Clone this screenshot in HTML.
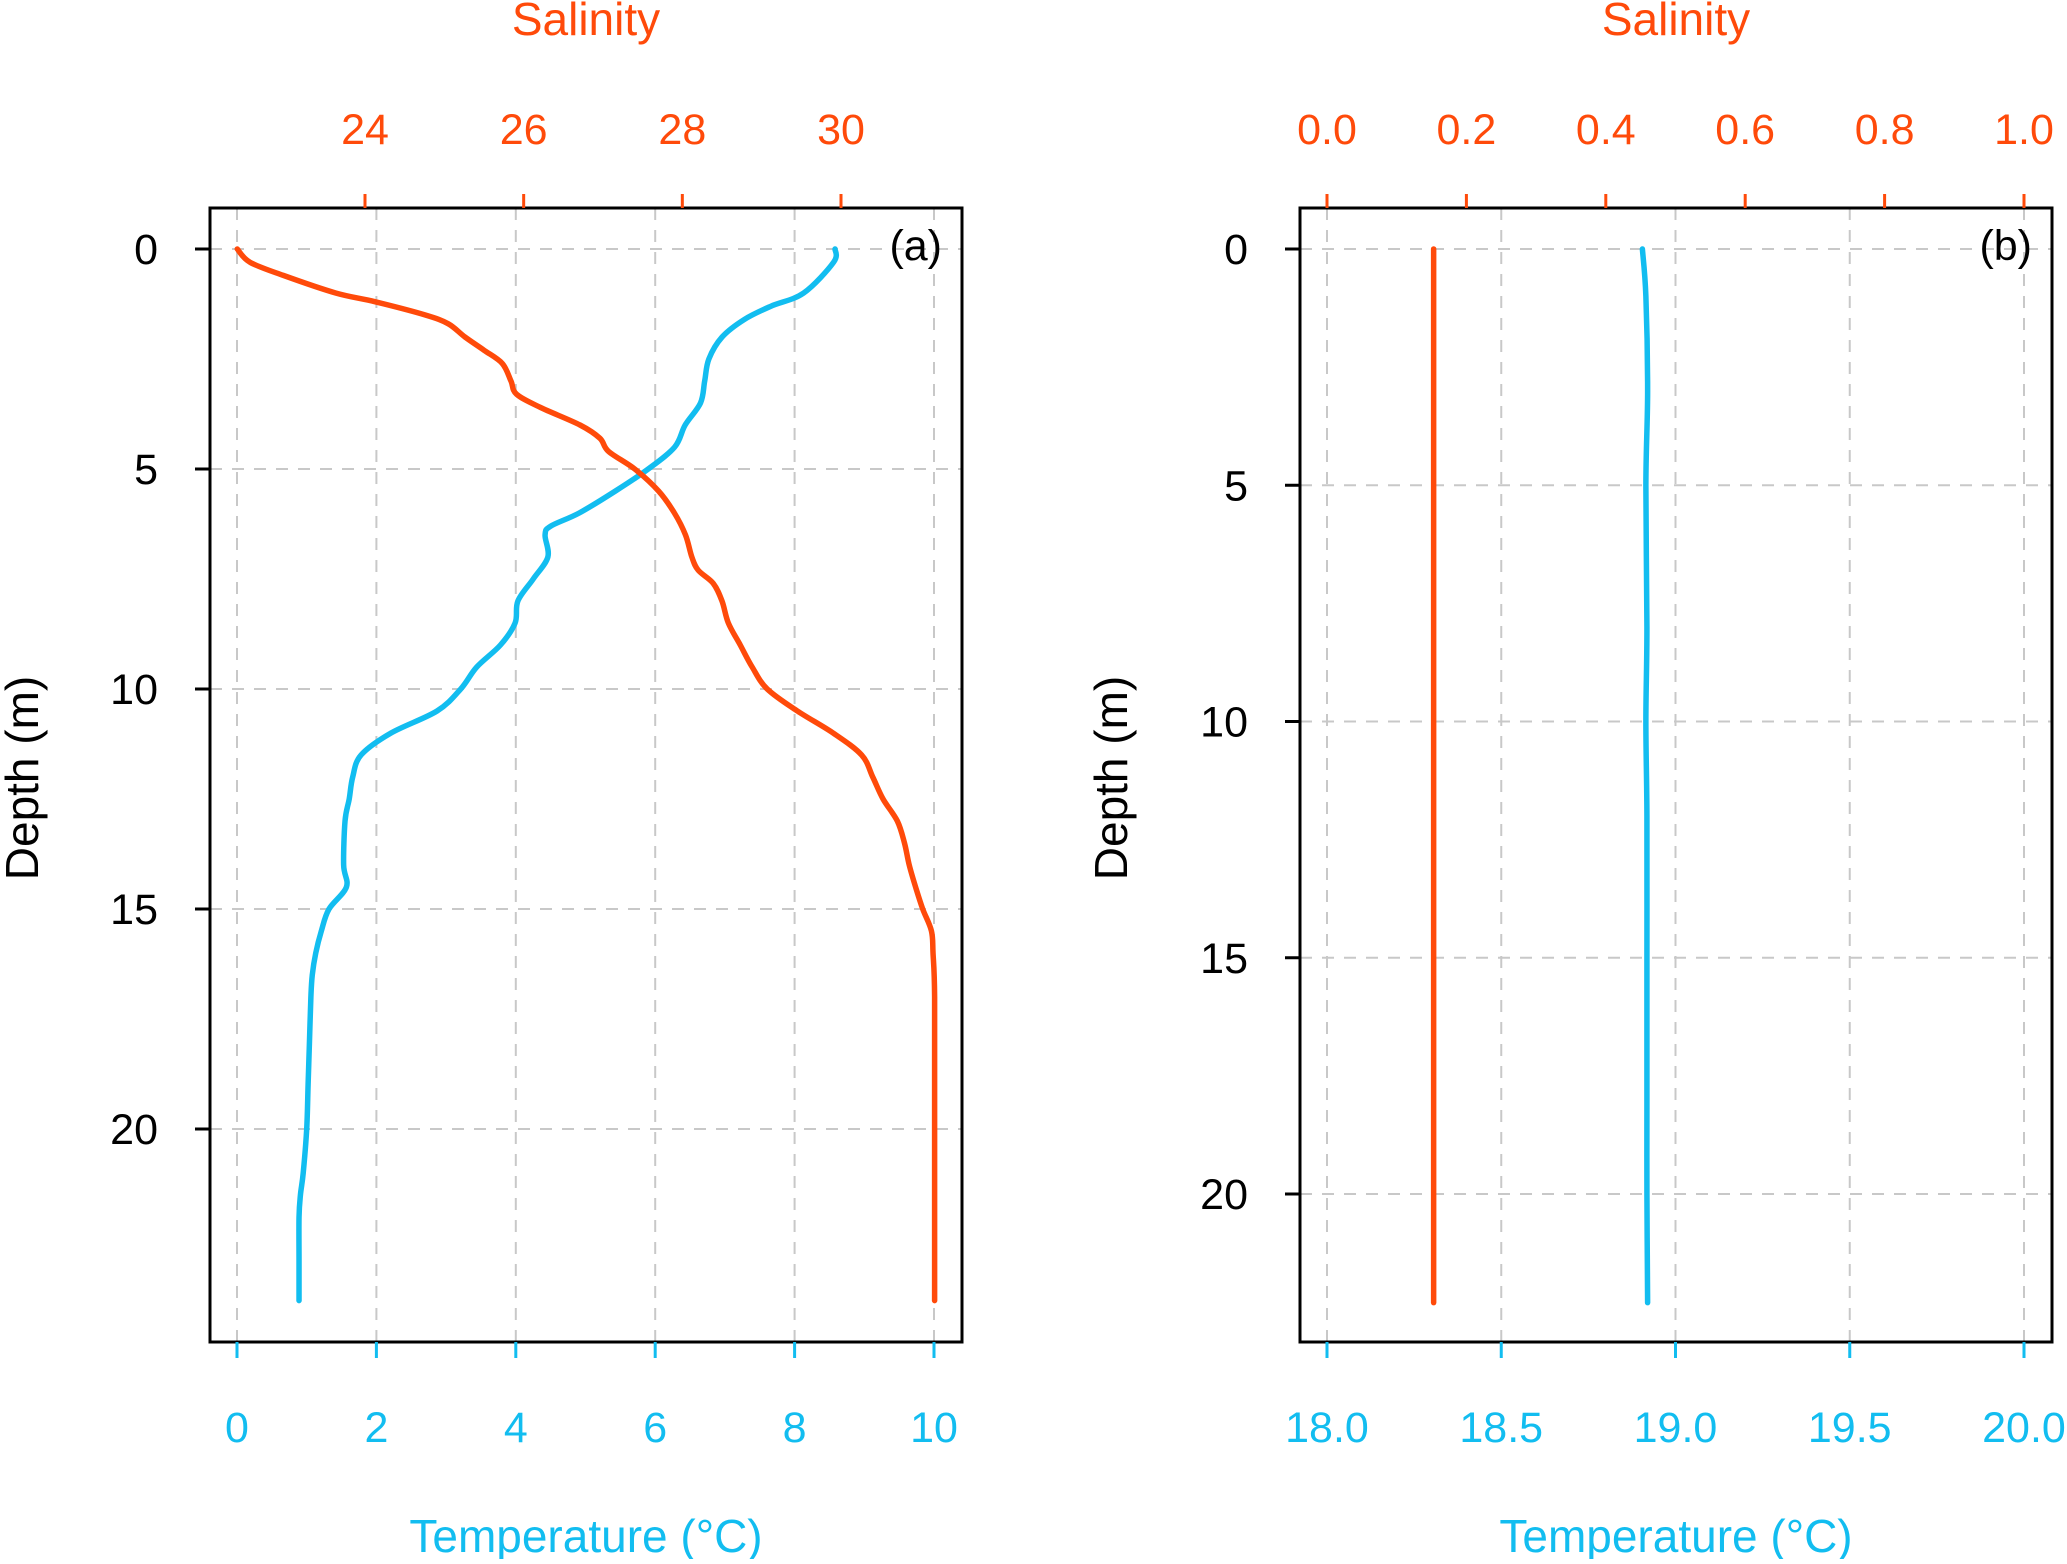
<!DOCTYPE html>
<html><head><meta charset="utf-8"><style>
body{margin:0;background:#fff}
svg text{font-family:"Liberation Sans","DejaVu Sans",sans-serif}
</style></head><body>
<svg id="chart" width="2067" height="1559" viewBox="0 0 2067 1559" xmlns="http://www.w3.org/2000/svg"></svg>
<script>
// Panel (a) data
const depthA = [0,0.3,1,1.3,1.6,2,2.5,3,3.5,4,4.5,5,5.5,6,6.3,6.5,7,7.5,8,8.5,9,9.5,10,10.5,11,11.5,12,12.5,13,14,14.5,15,15.5,16,16.5,17,18,19,20,21,21.5,22,23,23.9];
const tempA = [8.58,8.56,8.13,7.66,7.28,6.96,6.77,6.71,6.65,6.43,6.28,5.9,5.43,4.91,4.5,4.42,4.46,4.25,4.03,3.99,3.78,3.44,3.21,2.87,2.21,1.78,1.66,1.61,1.55,1.53,1.57,1.32,1.21,1.13,1.08,1.06,1.04,1.02,1.0,0.95,0.91,0.89,0.89,0.89];
const depthSalA = [0,0.3,0.6,1,1.2,1.5,1.7,2,2.3,2.6,3,3.3,3.6,4,4.3,4.6,5,5.5,6,6.5,7,7.3,7.6,8,8.5,9,9.5,10,10.5,11,11.5,12,12.5,13,13.5,14,14.5,15,15.5,16,17,20,23.9];
const salA = [22.39,22.55,22.97,23.63,24.13,24.76,25.05,25.26,25.5,25.73,25.84,25.91,26.21,26.71,26.96,27.07,27.4,27.7,27.9,28.04,28.12,28.2,28.39,28.5,28.58,28.73,28.88,29.07,29.45,29.9,30.26,30.4,30.53,30.71,30.8,30.86,30.94,31.03,31.14,31.16,31.18,31.18,31.18];
// Panel (b) data
const depthB = [0,1,3,5,8,10,12,15,18,20,22.3];
const tempB = [18.905,18.915,18.92,18.915,18.918,18.915,18.918,18.918,18.918,18.918,18.92];
const salB = [0.153,0.153,0.153,0.153,0.153,0.153,0.153,0.153,0.153,0.153,0.153];
// ticks
const depthTicksA = [0,5,10,15,20];
const depthTicksB = [0,5,10,15,20];
const tempTicksA = [0,2,4,6,8,10];
const salTicksA = [24,26,28,30];
const tempTicksB = [18.0,18.5,19.0,19.5,20.0];
const salTicksB = [0.0,0.2,0.4,0.6,0.8,1.0];

const NS="http://www.w3.org/2000/svg";
const svg=document.getElementById('chart');
const RED="#ff4a0a", BLUE="#12bdf0";
function el(tag,attrs,parent){const e=document.createElementNS(NS,tag);for(const k in attrs)e.setAttribute(k,attrs[k]);(parent||svg).appendChild(e);return e;}
function lin(d0,d1,r0,r1){return v=>r0+(v-d0)*(r1-r0)/(d1-d0);}
function smooth(p){
  let d=`M${p[0][0]},${p[0][1]}`;
  for(let i=0;i<p.length-1;i++){
    const p0=p[Math.max(0,i-1)],p1=p[i],p2=p[i+1],p3=p[Math.min(p.length-1,i+2)];
    const c1=[p1[0]+(p2[0]-p0[0])/6,p1[1]+(p2[1]-p0[1])/6];
    const c2=[p2[0]-(p3[0]-p1[0])/6,p2[1]-(p3[1]-p1[1])/6];
    d+=` C${c1[0]},${c1[1]} ${c2[0]},${c2[1]} ${p2[0]},${p2[1]}`;
  }
  return d;
}

function panel(cfg){
  const g=el('g',{});
  
  
  const {L,R,T,B,x,xs,y}=cfg;
  cfg.tTicks.forEach(t=>{const l=el('line',{x1:x(t),x2:x(t),y1:T,y2:B,stroke:'#c8c8c8','stroke-width':2,'stroke-dasharray':'12,10'},g);
    });
  cfg.dTicks.forEach(d=>{const l=el('line',{x1:L,x2:R,y1:y(d),y2:y(d),stroke:'#c8c8c8','stroke-width':2,'stroke-dasharray':'12,10'},g);
    });
  const pt=el('path',{d:smooth(cfg.tD.map((d,i)=>[x(cfg.tV[i]),y(d)])),fill:'none',stroke:BLUE,'stroke-width':5.5,'stroke-linejoin':'round','stroke-linecap':'round'},g);
  
  const ps=el('path',{d:smooth(cfg.sD.map((d,i)=>[xs(cfg.sV[i]),y(d)])),fill:'none',stroke:RED,'stroke-width':5.5,'stroke-linejoin':'round','stroke-linecap':'round'},g);
  
  const fr=el('rect',{x:L,y:T,width:R-L,height:B-T,fill:'none',stroke:'#000','stroke-width':3},g);
  
  cfg.dTicks.forEach(d=>{el('line',{x1:L-15,x2:L,y1:y(d),y2:y(d),stroke:'#000','stroke-width':3},g);
    const t=el('text',{x:L-52,y:y(d)+15,'text-anchor':'end','font-size':43,fill:'#000'},g);t.textContent=d;
    });
  cfg.tTicks.forEach(v=>{el('line',{x1:x(v),x2:x(v),y1:B,y2:B+16,stroke:BLUE,'stroke-width':3},g);
    const t=el('text',{x:x(v),y:1442,'text-anchor':'middle','font-size':43,fill:BLUE},g);t.textContent=cfg.tFmt(v);
    });
  cfg.sTicks.forEach(v=>{el('line',{x1:xs(v),x2:xs(v),y1:T-14,y2:T,stroke:RED,'stroke-width':3},g);
    const t=el('text',{x:xs(v),y:144,'text-anchor':'middle','font-size':43,fill:RED},g);t.textContent=cfg.sFmt(v);
    });
  const cx=(L+R)/2;
  let t=el('text',{x:cx,y:35,'text-anchor':'middle','font-size':46,fill:RED},g);t.textContent='Salinity';
  
  t=el('text',{x:cx,y:1552,'text-anchor':'middle','font-size':46,fill:BLUE},g);t.textContent='Temperature (°C)';
  
  t=el('text',{x:0,y:0,'text-anchor':'middle','font-size':46,fill:'#000',transform:`translate(${cfg.yTitleX},778) rotate(-90)`},g);t.textContent='Depth (m)';
  
  t=el('text',{x:R-20,y:260,'text-anchor':'end','font-size':43,fill:'#000'},g);t.textContent=cfg.label;
  
}

panel({name:'panel-a',L:210,R:962,T:208,B:1342,
  x:lin(0,10,237,934), xs:lin(24,30,365,841), y:lin(0,20,249,1129),
  tD:depthA,tV:tempA,sD:depthSalA,sV:salA,
  dTicks:depthTicksA,tTicks:tempTicksA,sTicks:salTicksA,
  tFmt:v=>String(v), sFmt:v=>String(v), yTitleX:38, label:'(a)'});
panel({name:'panel-b',L:1300,R:2052,T:208,B:1342,
  x:lin(18,20,1327,2024), xs:lin(0,1,1327,2024), y:lin(0,20,249,1194),
  tD:depthB,tV:tempB,sD:depthB,sV:salB,
  dTicks:depthTicksB,tTicks:tempTicksB,sTicks:salTicksB,
  tFmt:v=>v.toFixed(1), sFmt:v=>v.toFixed(1), yTitleX:1127, label:'(b)'});
</script>
</body></html>
